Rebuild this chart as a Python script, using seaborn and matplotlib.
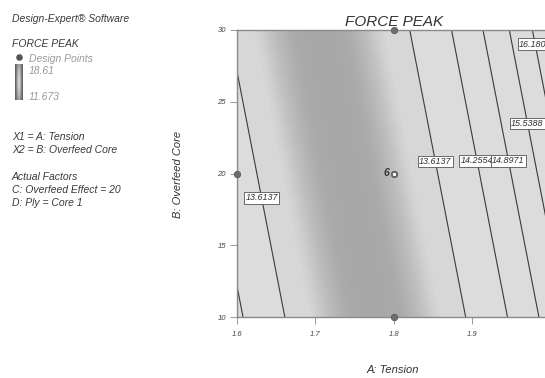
import numpy as np
import matplotlib
matplotlib.use("Agg")
import matplotlib.pyplot as plt
import seaborn as sns
from matplotlib.colors import LinearSegmentedColormap

# ---------------- data ----------------
tension_range = [1.6, 2.0]
overfeed_range = [10, 30]
x_ticks = [1.6, 1.7, 1.8, 1.9]
y_ticks = [10, 15, 20, 25, 30]
contour_levels = [13.6137, 14.2554, 14.8971, 15.5388, 16.1805]
level_labels = ["13.6137", "14.2554", "14.8971", "15.5388", "16.1805"]
# quadratic response-surface coefficients
peak_min = 13.05
curvature = 42.3
ridge_center_at_b10 = 1.7765
ridge_shift_per_b = -0.00357
design_a = [1.8, 1.6, 1.8, 1.8]
design_b = [30, 20, 10, 20]
center_runs = "6"
legend_high = "18.61"
legend_low = "11.673"

# ---------------- style ----------------
sns.set_theme(style="white")
plt.rcParams["font.family"] = ["Liberation Sans", "DejaVu Sans"]
plt.rcParams["font.style"] = "italic"

W, H = 545, 378
fig = plt.figure(figsize=(W / 100, H / 100), dpi=100)
fig.patch.set_facecolor("white")

def fx(px):
    return px / W

def fy(py):
    return 1 - py / H

ax_left, ax_right, ax_top, ax_bottom = 237, 550.3, 30, 317
ax = fig.add_axes([fx(ax_left), fy(ax_bottom), fx(ax_right - ax_left), (ax_bottom - ax_top) / H])

A = np.linspace(tension_range[0], tension_range[1], 400)
B = np.linspace(overfeed_range[0], overfeed_range[1], 300)
AA, BB = np.meshgrid(A, B)
center = ridge_center_at_b10 + ridge_shift_per_b * (BB - 10)
Z = peak_min + curvature * (AA - center) ** 2

cmap = LinearSegmentedColormap.from_list(
    "grey_surface",
    [(0.0, "#a7a7a7"), (0.15, "#aaaaaa"), (0.45, "#bcbcbc"), (0.8, "#d0d0d0"), (1.0, "#d7d7d7")])
ax.pcolormesh(AA, BB, Z, cmap=cmap, vmin=peak_min, vmax=peak_min + 0.30, shading="auto", rasterized=True)
# slightly lighter plateau outside the first contour
ax.contourf(AA, BB, Z, levels=[contour_levels[0], Z.max() + 1], colors=["#dcdcdc"])

cs = ax.contour(AA, BB, Z, levels=contour_levels, colors="#3a3a3a", linewidths=0.8)
fmt = dict(zip(contour_levels, level_labels))
manual_pos = [(1.630, 18.3), (1.859, 20.9), (1.908, 20.9), (1.948, 20.9), (1.972, 23.5), (1.979, 29.0)]
labels = ax.clabel(cs, levels=contour_levels, inline=False, fmt=fmt, fontsize=6.5, manual=manual_pos)
for t in labels:
    t.set_rotation(0)
    t.set_fontstyle("italic")
    t.set_color("#333333")
    t.set_bbox(dict(facecolor="white", edgecolor="#555555", linewidth=0.6, pad=1.0))

sns.scatterplot(x=design_a, y=design_b, ax=ax, color="#6e6e6e", s=22, edgecolor="#555555",
                linewidth=0.5, zorder=5, clip_on=False, legend=False)
ax.text(design_a[3] - 0.006, design_b[3] + 0.05, center_runs, fontsize=7.5, fontweight="bold",
        color="#333333", ha="right", va="center", zorder=6)
ax.scatter([design_a[3] + 0.001], [design_b[3]], s=10, facecolor="white", edgecolor="#555555",
           linewidth=0.6, zorder=6)

ax.set_xlim(tension_range)
ax.set_ylim(overfeed_range)
ax.set_xticks(x_ticks)
ax.set_yticks(y_ticks)
ax.set_xticklabels([f"{v:.1f}" for v in x_ticks])
ax.set_yticklabels([str(v) for v in y_ticks])
ax.tick_params(axis="both", which="both", direction="out", length=5, width=0.6, color="#888888",
               labelsize=5.5, labelcolor="#444444", bottom=True, left=True)
ax.tick_params(axis="x", pad=5)
ax.tick_params(axis="y", pad=3)
for side in ["left", "bottom", "top"]:
    ax.spines[side].set_color("#8a8a8a")
    ax.spines[side].set_linewidth(1.0)
ax.spines["right"].set_visible(False)

ax.set_title("FORCE PEAK", fontsize=11, fontstyle="italic", color="#333333", pad=3)
ax.set_xlabel("")
ax.set_ylabel("")
fig.text(fx(393), fy(370), "A: Tension", fontsize=8, style="italic", color="#333333", ha="center", va="center")
fig.text(fx(178), fy(174), "B: Overfeed Core", fontsize=8, style="italic", color="#333333",
         ha="center", va="center", rotation=90)

# ---------------- left information panel ----------------
dark = "#3a3a3a"
light = "#9a9a9a"
txt = dict(fontsize=7.5, style="italic", ha="left", va="center")
fig.text(fx(12), fy(19), "Design-Expert\u00ae Software", color=dark, **txt)
fig.text(fx(12), fy(44), "FORCE PEAK", color=dark, **txt)
fig.text(fx(29), fy(59), "Design Points", color=light, **txt)
fig.text(fx(29), fy(71), legend_high, color=light, **txt)
fig.text(fx(29), fy(97), legend_low, color=light, **txt)
fig.text(fx(12), fy(137.5), "X1 = A: Tension", color=dark, **txt)
fig.text(fx(12), fy(150), "X2 = B: Overfeed Core", color=dark, **txt)
fig.text(fx(12), fy(177), "Actual Factors", color=dark, **txt)
fig.text(fx(12), fy(190), "C: Overfeed Effect = 20", color=dark, **txt)
fig.text(fx(12), fy(203), "D: Ply = Core 1", color=dark, **txt)

legend_ax = fig.add_axes([0, 0, 1, 1], facecolor="none")
legend_ax.set_xlim(0, W)
legend_ax.set_ylim(H, 0)
legend_ax.axis("off")
legend_ax.scatter([19], [57], s=14, color="#555555", zorder=3)
u = np.linspace(-1, 1, 20)
v = np.linspace(0, 1, 40)
UU, VV = np.meshgrid(u, v)
bar = 0.35 + 0.55 * (1 - np.abs(UU)) * (0.6 + 0.4 * np.sin(np.pi * VV))
legend_ax.imshow(bar, cmap="gray", vmin=0, vmax=1, extent=(15, 23, 100, 64), aspect="auto", zorder=2)

fig.savefig("out.png", dpi=100, facecolor="white")
